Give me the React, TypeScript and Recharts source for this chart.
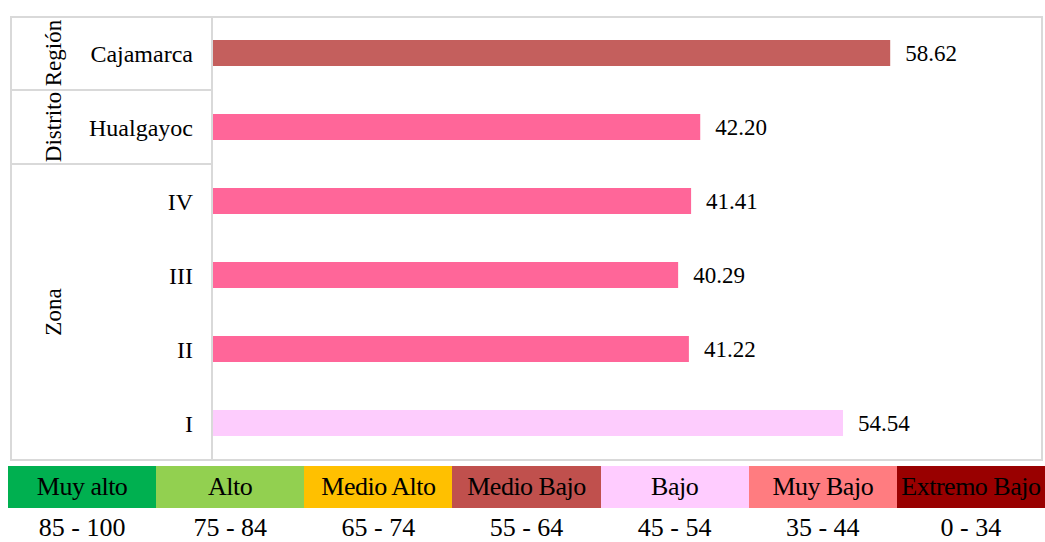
import React from "react";
import { BarChart, Bar, XAxis, YAxis, LabelList, Cell } from "recharts";

const categories = ["Cajamarca", "Hualgayoc", "IV", "III", "II", "I"];
const values = [58.62, 42.2, 41.41, 40.29, 41.22, 54.54];
const barColors = ["#c45f5d", "#ff6699", "#ff6699", "#ff6699", "#ff6699", "#fdccfd"];

const groupLabels = ["Región", "Distrito", "Zona"];
const groupSpans = [1, 1, 4];

const levelNames = ["Muy alto", "Alto", "Medio Alto", "Medio Bajo", "Bajo", "Muy Bajo", "Extremo Bajo"];
const levelRanges = ["85 - 100", "75 - 84", "65 - 74", "55 - 64", "45 - 54", "35 - 44", "0 - 34"];
const levelColors = ["#00b050", "#92d050", "#ffc000", "#c0504d", "#ffccff", "#ff7c80", "#990000"];

const data = categories.map((name, i) => ({ name, value: values[i] }));

const FONT = "'Liberation Serif', 'Times New Roman', serif";
const LINE = "#d9d9d9";
const PLOT_TOP = 16;
const PLOT_H = 444;
const BAND = PLOT_H / categories.length;

const App = () => {
    let acc = 0;
    const groups = groupLabels.map((label, i) => {
        const top = PLOT_TOP + acc * BAND;
        acc += groupSpans[i];
        return { label, top, height: groupSpans[i] * BAND };
    });

    return (
        <div
            style={{
                position: "absolute",
                left: 0,
                top: 0,
                width: 1045,
                height: 542,
                background: "#fff",
                fontFamily: FONT,
            }}
        >
            {/* table frame + group cells */}
            <div
                style={{
                    position: "absolute",
                    left: 10,
                    top: 16,
                    width: 1033,
                    height: 445,
                    border: `2px solid ${LINE}`,
                    boxSizing: "border-box",
                }}
            />
            {groups.slice(1).map((g) => (
                <div
                    key={"sep" + g.label}
                    style={{
                        position: "absolute",
                        left: 10,
                        width: 202,
                        top: g.top - 1,
                        height: 2,
                        background: LINE,
                    }}
                />
            ))}
            {groups.map((g) => (
                <div
                    key={g.label}
                    style={{
                        position: "absolute",
                        left: 54 - 60,
                        top: g.top + g.height / 2 - 14,
                        width: 120,
                        height: 28,
                        lineHeight: "28px",
                        textAlign: "center",
                        fontSize: 23,
                        color: "#000",
                        transform: "rotate(-90deg)",
                        whiteSpace: "nowrap",
                    }}
                >
                    {g.label}
                </div>
            ))}

            <div style={{ position: "absolute", left: 0, top: 0 }}>
                <BarChart
                    width={1045}
                    height={461}
                    data={data}
                    layout="vertical"
                    margin={{ top: 16, right: 0, bottom: 1, left: 10 }}
                    barSize={26}
                >
                    <XAxis type="number" domain={[0, 72]} hide />
                    <YAxis
                        type="category"
                        dataKey="name"
                        width={202}
                        tickLine={false}
                        tickSize={0}
                        tickMargin={19}
                        axisLine={{ stroke: LINE, strokeWidth: 2 }}
                        tick={{ fill: "#000", fontSize: 24, fontFamily: FONT }}
                    />
                    <Bar dataKey="value" isAnimationActive={false}>
                        {data.map((d, i) => (
                            <Cell key={d.name} fill={barColors[i]} />
                        ))}
                        <LabelList
                            dataKey="value"
                            position="right"
                            offset={15}
                            formatter={(v: any) => Number(v).toFixed(2)}
                            style={{ fill: "#000", fontSize: 23, fontFamily: FONT }}
                        />
                    </Bar>
                </BarChart>
            </div>

            {/* level scale */}
            <div style={{ position: "absolute", left: 8, top: 466, width: 1037, display: "flex" }}>
                {levelNames.map((n, i) => (
                    <div
                        key={n}
                        style={{
                            flex: 1,
                            height: 42,
                            lineHeight: "42px",
                            background: levelColors[i],
                            textAlign: "center",
                            fontSize: 26,
                            letterSpacing: -0.5,
                            color: "#000",
                            whiteSpace: "nowrap",
                            overflow: "hidden",
                        }}
                    >
                        {n}
                    </div>
                ))}
            </div>
            <div style={{ position: "absolute", left: 8, top: 513, width: 1037, display: "flex" }}>
                {levelRanges.map((r) => (
                    <div
                        key={r}
                        style={{
                            flex: 1,
                            height: 30,
                            lineHeight: "30px",
                            textAlign: "center",
                            fontSize: 26,
                            color: "#000",
                        }}
                    >
                        {r}
                    </div>
                ))}
            </div>
        </div>
    );
};

export default App;
